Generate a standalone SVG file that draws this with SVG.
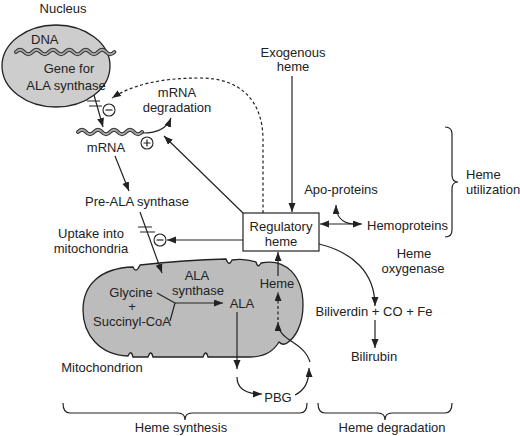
<svg xmlns="http://www.w3.org/2000/svg" width="520" height="436" viewBox="0 0 520 436">
<defs>
<marker id="arr" markerUnits="userSpaceOnUse" markerWidth="10" markerHeight="8" refX="9" refY="3.5" orient="auto-start-reverse">
<path d="M0,0 L9,3.5 L0,7 z" fill="#222"/>
</marker>
</defs>
<style>
text{font-family:"Liberation Sans",Arial,sans-serif;font-size:13px;fill:#222;text-anchor:middle}
.st{text-anchor:start}
.ln{fill:none;stroke:#222;stroke-width:1.2}
.ar{fill:none;stroke:#222;stroke-width:1.2;marker-end:url(#arr)}
.dash{fill:none;stroke:#222;stroke-width:1.2;stroke-dasharray:3,2.5;marker-end:url(#arr)}
.waveo{fill:none;stroke:#333;stroke-width:4;stroke-linecap:round}
.wavei{fill:none;stroke:#aaa;stroke-width:1.8;stroke-linecap:round}
.sym{fill:#fff;stroke:#222;stroke-width:1.1}
.brace{fill:none;stroke:#222;stroke-width:1.2}
</style>
<rect width="520" height="436" fill="#fff"/>

<g id="nucleus">
<ellipse cx="56" cy="66" rx="54" ry="41" fill="#cdcdcd" stroke="#222" stroke-width="1.3"/>
<text x="63" y="13">Nucleus</text>
<text x="31" y="44" class="st">DNA</text>
<path class="waveo" d="M16,52 q4.1,-4.5 8.2,0 t8.2,0 t8.2,0 t8.2,0 t8.2,0 t8.2,0 t8.2,0 t8.2,0 t8.2,0 t8.2,0 t8.2,0 t8.2,0"/>
<path class="wavei" d="M16,52 q4.1,-4.5 8.2,0 t8.2,0 t8.2,0 t8.2,0 t8.2,0 t8.2,0 t8.2,0 t8.2,0 t8.2,0 t8.2,0 t8.2,0 t8.2,0"/>
<text x="69" y="73">Gene for</text>
<text x="66" y="90">ALA synthase</text>
</g>

<g id="mrna">
<path class="waveo" d="M78,132 q4,-4.5 8,0 t8,0 t8,0 t8,0 t8,0 t8,0 t8,0 t8,0"/>
<path class="wavei" d="M78,132 q4,-4.5 8,0 t8,0 t8,0 t8,0 t8,0 t8,0 t8,0 t8,0"/>
<text x="106" y="152">mRNA</text>
</g>

<g id="mrna-degradation">
<text x="177" y="97">mRNA</text>
<text x="177" y="112">degradation</text>
</g>

<g id="exogenous-heme">
<text x="293" y="56.5">Exogenous</text>
<text x="293" y="70.5">heme</text>
</g>

<g id="regulatory-heme">
<rect x="243" y="213" width="76" height="38" fill="#fff" stroke="#222" stroke-width="1.2"/>
<text x="281" y="231">Regulatory</text>
<text x="281" y="246">heme</text>
</g>

<g id="apo-proteins"><text x="341" y="194">Apo-proteins</text></g>
<g id="hemoproteins"><text x="367" y="230" class="st">Hemoproteins</text></g>

<g id="heme-utilization">
<path class="brace" d="M445,127 Q452,127 452,134 L452,175 Q452,182 458,182 Q452,182 452,189 L452,230 Q452,237 445,237"/>
<text x="466" y="179" class="st">Heme</text>
<text x="466" y="193.5" class="st">utilization</text>
</g>

<g id="pre-ala-synthase"><text x="85" y="206" class="st">Pre-ALA synthase</text></g>
<g id="uptake"><text x="91" y="238">Uptake into</text><text x="91" y="253">mitochondria</text></g>

<g id="mitochondrion">
<path d="M140,265 Q185,260 226,259 q3,8 6,1 Q244,258 256,262 q2,7 5,1 C285,258 303,275 303,305 C303,325 295,338 287,343 q-4,3 -8,-1 Q270,357 250,357 L208,357 q-2,-8 -5,0 L153,357 q-2,-8 -5,0 L133,357 q-2,-8 -5,-1 C100,355 83,335 83,310 C83,285 100,268 133,267 q3,7 7,-2 z" fill="#bcbcbc" stroke="#222" stroke-width="1.3"/>
<text x="197" y="280">ALA</text>
<text x="198" y="295">synthase</text>
<text x="131" y="297">Glycine</text>
<text x="132" y="311">+</text>
<text x="132" y="326">Succinyl-CoA</text>
<text x="242" y="308">ALA</text>
<text x="277" y="288">Heme</text>
<text x="102" y="372">Mitochondrion</text>
</g>

<g id="heme-oxygenase"><text x="414" y="258">Heme</text><text x="413" y="273">oxygenase</text></g>
<g id="biliverdin"><text x="374" y="316">Biliverdin + CO + Fe</text></g>
<g id="bilirubin"><text x="374" y="361">Bilirubin</text></g>
<g id="pbg"><text x="278" y="402">PBG</text></g>

<g id="heme-synthesis">
<path class="brace" d="M63,403 Q63,413 70,413 L178,413 Q185,413 185,420 Q185,413 192,413 L300,413 Q307,413 307,403"/>
<text x="181" y="432">Heme synthesis</text>
</g>
<g id="heme-degradation">
<path class="brace" d="M318,403 Q318,413 325,413 L378,413 Q385,413 385,420 Q385,413 392,413 L445,413 Q452,413 452,403"/>
<text x="392" y="432">Heme degradation</text>
</g>

<g id="connectors">
<path class="ar" d="M94,95 L103,127"/>
<path class="ln" d="M87,101 L100,101 M89,106 L102,106"/>
<circle class="sym" cx="109" cy="110" r="6"/>
<path class="ln" d="M105.5,110 L112.5,110"/>

<path class="dash" d="M263,213 L263,140 C263,100 240,78 200,78 C160,78 132,85 112,98"/>

<path class="ar" d="M143,133 C158,133 167,128 171,118"/>
<circle class="sym" cx="147" cy="143" r="6"/>
<path class="ln" d="M143.5,143 L150.5,143 M147,139.5 L147,146.5"/>

<path class="ar" d="M243,213 L164,136"/>
<path class="ar" d="M292,76 L292,212"/>

<path class="ar" d="M115,156 L129,191"/>
<path class="ar" d="M140,212 L162,273"/>
<path class="ln" d="M138,227 L152,227 M140,232 L155,232"/>
<circle class="sym" cx="160" cy="240" r="6"/>
<path class="ln" d="M156.5,240 L163.5,240"/>
<path class="ar" d="M243,240 L167,240"/>

<path class="ar" d="M320,224 L362,224" marker-start="url(#arr)"/>
<path class="ar" d="M353,224 C341,223 336,215 336,205"/>

<path class="ar" d="M319,244 C352,252 375,272 375,306"/>
<path class="ar" d="M375,320 L375,348"/>

<path class="ln" d="M157,293 L175,303 L170,321"/>
<path class="ar" d="M175,303 L223,303"/>

<path class="ar" d="M237,312 L237,369"/>
<path class="ar" d="M237,377 C237,390 248,394 262,394"/>
<path class="ar" d="M295,395 C305,390 309,382 309,368"/>
<path class="ar" d="M310,362 C303,340 278,342 278,322"/>
<path class="dash" d="M278,320 L278,292"/>
<path class="ar" d="M278,276 L278,252"/>
</g>
</svg>
